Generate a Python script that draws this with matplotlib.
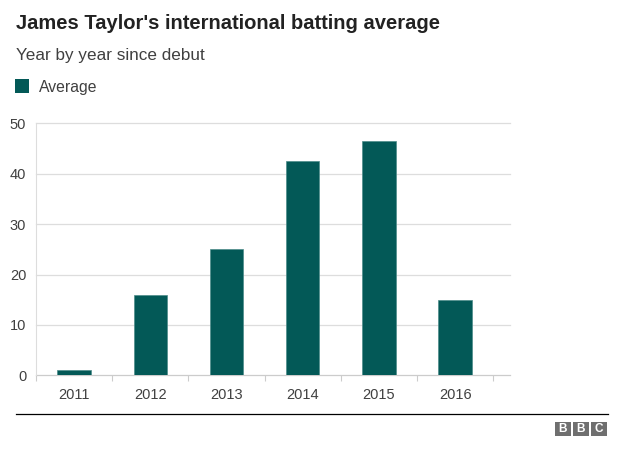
import matplotlib
matplotlib.use("Agg")
import matplotlib.pyplot as plt
from matplotlib.patches import Rectangle
from matplotlib.lines import Line2D

plt.rcParams['font.family'] = ['Liberation Sans', 'DejaVu Sans']

years = ["2011", "2012", "2013", "2014", "2015", "2016"]
averages = [1.0, 16.0, 25.0, 42.6, 46.4, 14.9]
yticks = [0, 10, 20, 30, 40, 50]

W, H = 624, 459
fig = plt.figure(figsize=(W / 100, H / 100), dpi=100)

def fx(px):
    return px / W

def fy(py):
    return 1 - py / H

bar_color = "#035957"

ax = fig.add_axes([fx(36), fy(375.3), fx(510) - fx(36), fy(123.3) - fy(375.3)])
x = list(range(len(years)))
ax.bar(x, averages, width=0.44, color=bar_color, edgecolor="#4d8c8a", linewidth=0.5, zorder=3)
ax.set_xlim(-0.5, 5.72)
ax.set_ylim(0, 50)
ax.set_yticks(yticks)
ax.set_yticklabels([str(v) for v in yticks])
ax.set_xticks(x)
ax.set_xticklabels(years)
ax.set_xticks([i - 0.5 for i in range(len(years) + 1)], minor=True)
ax.tick_params(axis='x', which='major', length=0, pad=9, labelsize=10.5, labelcolor="#404040")
ax.tick_params(axis='x', which='minor', length=4, width=0.8, color="#cccccc")
ax.tick_params(axis='y', length=0, pad=7, labelsize=10.5, labelcolor="#404040")
for s in ["top", "right", "bottom"]:
    ax.spines[s].set_visible(False)
ax.spines["left"].set_color("#dddddd")
ax.spines["left"].set_linewidth(0.8)
for v in yticks:
    ax.axhline(v, color="#dddddd" if v else "#cccccc", linewidth=0.9, zorder=1, clip_on=False)

# Title, subtitle, legend
fig.text(fx(16), fy(29), "James Taylor's international batting average", fontsize=14.5,
         fontweight="bold", color="#222222", va="baseline", ha="left")
fig.text(fx(16), fy(60), "Year by year since debut", fontsize=12.3, color="#404040",
         va="baseline", ha="left")
fig.patches.append(Rectangle((fx(15), fy(93)), fx(13.5), fy(79) - fy(93), transform=fig.transFigure,
                             facecolor=bar_color, edgecolor="none"))
fig.text(fx(39), fy(92), "Average", fontsize=11.3, color="#404040", va="baseline", ha="left")

# Footer line and BBC logo
fig.lines.append(Line2D([fx(16), fx(608)], [fy(414), fy(414)], transform=fig.transFigure,
                        color="black", linewidth=0.9))
for i, letter in enumerate("BBC"):
    x0 = 555 + i * 18
    fig.patches.append(Rectangle((fx(x0), fy(435.7)), fx(15.7), fy(421.7) - fy(435.7),
                                 transform=fig.transFigure, facecolor="#6f6f6f", edgecolor="none"))
    fig.text(fx(x0 + 7.85), fy(428.7), letter, fontsize=8.5, color="white", ha="center",
             va="center", fontweight="bold")

fig.savefig("out.png", dpi=100)
